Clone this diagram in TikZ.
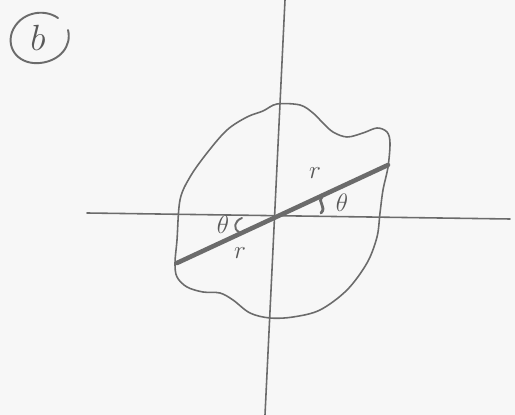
\documentclass[tikz,border=0pt]{standalone}
\usepackage{tikz}
\usetikzlibrary{calc}

\begin{document}
\begin{tikzpicture}[
      x=0.02cm, y=-0.02cm,
      every node/.style={font=\Large, text=black!65},
      pencil/.style={draw=black!58, line width=0.9pt, line cap=round, line join=round},
      rod/.style={draw=black!58, line width=2.6pt, line cap=round},
    ]
    % Paper
    \fill[black!3] (0,0) rectangle (515,415);
    \useasboundingbox (0,0) rectangle (515,415);

    % Label
    \draw[pencil, line width=1.1pt] (58,18) .. controls (44,8) and (20,12) .. (12,32)
      .. controls (6,50) and (20,65) .. (40,63)
      .. controls (60,61) and (72,46) .. (68,30);
    \node[font=\huge] (lbl) at (38,38) {$b$};

    % Blob
    \draw[pencil] plot[smooth cycle, tension=0.55] coordinates {
      (277,104) (300,105) (313,113) (323,123) (333,132) (347,137) (363,133) (377,128)
      (387,132) (390,143) (388,167) (383,190) (380,213) (377,237) (367,263) (347,290)
      (320,310) (293,317) (270,318) (250,313) (233,300) (220,293) (203,292) (187,287)
      (177,277) (175,263) (177,240) (180,200) (190,177) (207,153) (227,130) (247,117)
      (263,111)};

    % Axes
    \coordinate (o) at (275,215);
    \draw[pencil] (285,0) -- (265,415);
    \draw[pencil] (87,213) -- (510,219);

    % Rod
    \coordinate (a) at (177,263);
    \coordinate (b) at (388,165);
    \draw[rod] (a) -- (b);

    % Angles
    \draw[pencil, line width=1.6pt] (322,197) .. controls (317,202) and (327,207) .. (321,213);
    \node (th1) at (342,203) {$\theta$};
    \draw[pencil, line width=1.1pt] (242,218) .. controls (234,221) and (233,229) .. (239,232);
    \node (th2) at (223,225) {$\theta$};

    % Lengths
    \node (r1) at (315,173) {$r$};
    \node (r2) at (240,253) {$r$};
  \end{tikzpicture}
\end{document}
